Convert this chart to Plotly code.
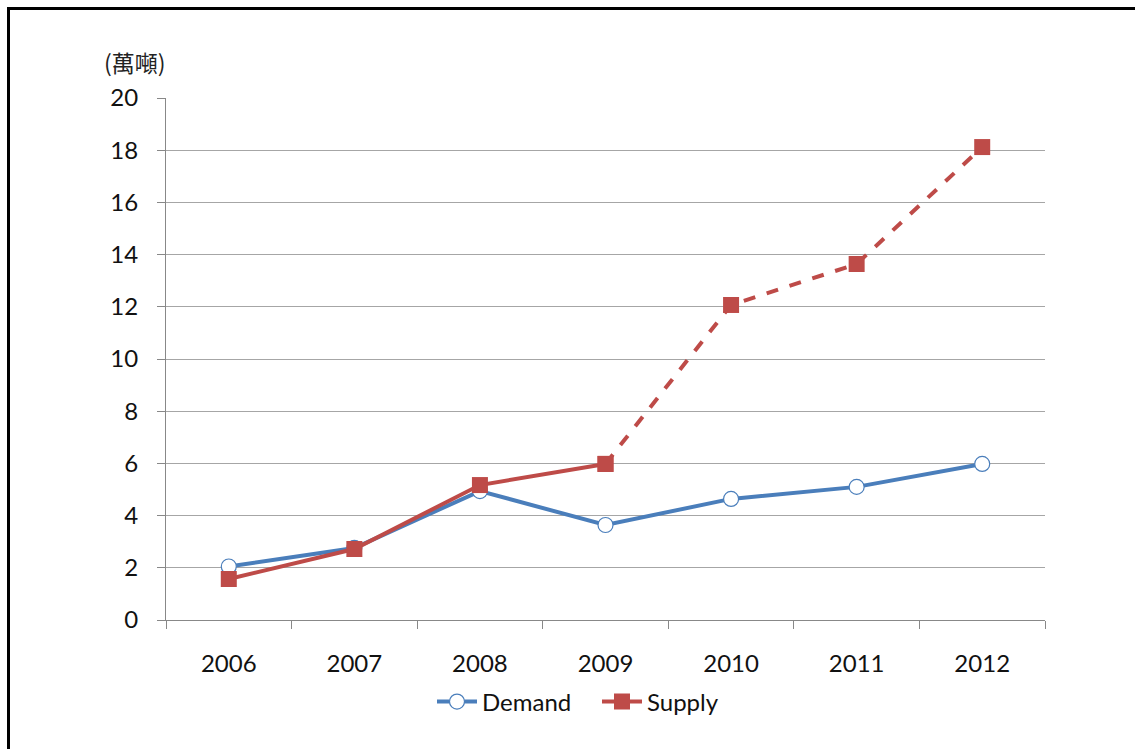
import plotly.graph_objects as go

years = ["2006", "2007", "2008", "2009", "2010", "2011", "2012"]
demand = [2.05, 2.76, 4.94, 3.64, 4.64, 5.10, 5.98]
supply = [1.57, 2.72, 5.17, 5.98, 12.07, 13.64, 18.12]
y_ticks = [0, 2, 4, 6, 8, 10, 12, 14, 16, 18, 20]
unit_label = "(萬噸)"

BLUE = "#4A7EBB"
RED = "#BE4B48"
AXIS = "#888888"
GRID = "#A6A6A6"
FONT = "Lato, 'Open Sans', sans-serif"

W, H = 1135, 749
L, R, T, B = 166, 90, 98, 129
pw, ph = W - L - R, H - T - B

# actual supply up to 2009, projected afterwards
split = years.index("2009")

fig = go.Figure()
fig.add_trace(go.Scatter(
    x=years, y=demand, name="Demand", mode="lines+markers",
    line=dict(color=BLUE, width=4),
    marker=dict(symbol="circle", size=15, color="white",
                line=dict(color=BLUE, width=1.2)),
))
fig.add_trace(go.Scatter(
    x=years[:split + 1], y=supply[:split + 1], name="Supply",
    mode="lines+markers",
    line=dict(color=RED, width=4),
    marker=dict(symbol="square", size=16, color=RED),
))
fig.add_trace(go.Scatter(
    x=years[split:], y=supply[split:], name="Supply", showlegend=False,
    mode="lines+markers",
    line=dict(color=RED, width=4, dash="dash"),
    marker=dict(symbol="square", size=16, color=RED),
))

# frame along the top and left edges of the page
def px_x(v):
    return (v - L) / pw

def px_y(v):
    return 1 - (v - T) / ph

fig.add_shape(
    type="path", xref="paper", yref="paper",
    path=f"M {px_x(8.5)},{px_y(760)} L {px_x(8.5)},{px_y(8.5)} L {px_x(1150)},{px_y(8.5)}",
    line=dict(color="black", width=3),
)

fig.add_annotation(
    text=unit_label, xref="paper", yref="paper",
    x=px_x(102), y=px_y(62), xanchor="left", yanchor="middle",
    showarrow=False,
    font=dict(family="'Noto Sans CJK TC', sans-serif", size=23, color="#222222"),
)

fig.update_layout(
    width=W, height=H,
    margin=dict(l=L, r=R, t=T, b=B),
    paper_bgcolor="white", plot_bgcolor="white",
    font=dict(family=FONT, size=24, color="#111111"),
    showlegend=True,
    legend=dict(orientation="h", x=px_x(432), y=px_y(702),
                xanchor="left", yanchor="middle",
                font=dict(size=24), itemwidth=40, tracegroupgap=0,
                entrywidth=110),
)
fig.update_xaxes(
    type="category", range=[-0.5, len(years) - 0.5], tickson="boundaries",
    showline=True, linecolor=AXIS, linewidth=1,
    ticks="outside", ticklen=8, tickcolor=AXIS,
    showgrid=False, ticklabelstandoff=22,
)
fig.update_yaxes(
    range=[0, 20], tickvals=y_ticks,
    showline=True, linecolor=AXIS, linewidth=1,
    ticks="outside", ticklen=8, tickcolor=AXIS,
    showgrid=True, gridcolor=GRID, gridwidth=1,
    zeroline=False, ticklabelstandoff=14,
)

fig.write_html("out.html")
